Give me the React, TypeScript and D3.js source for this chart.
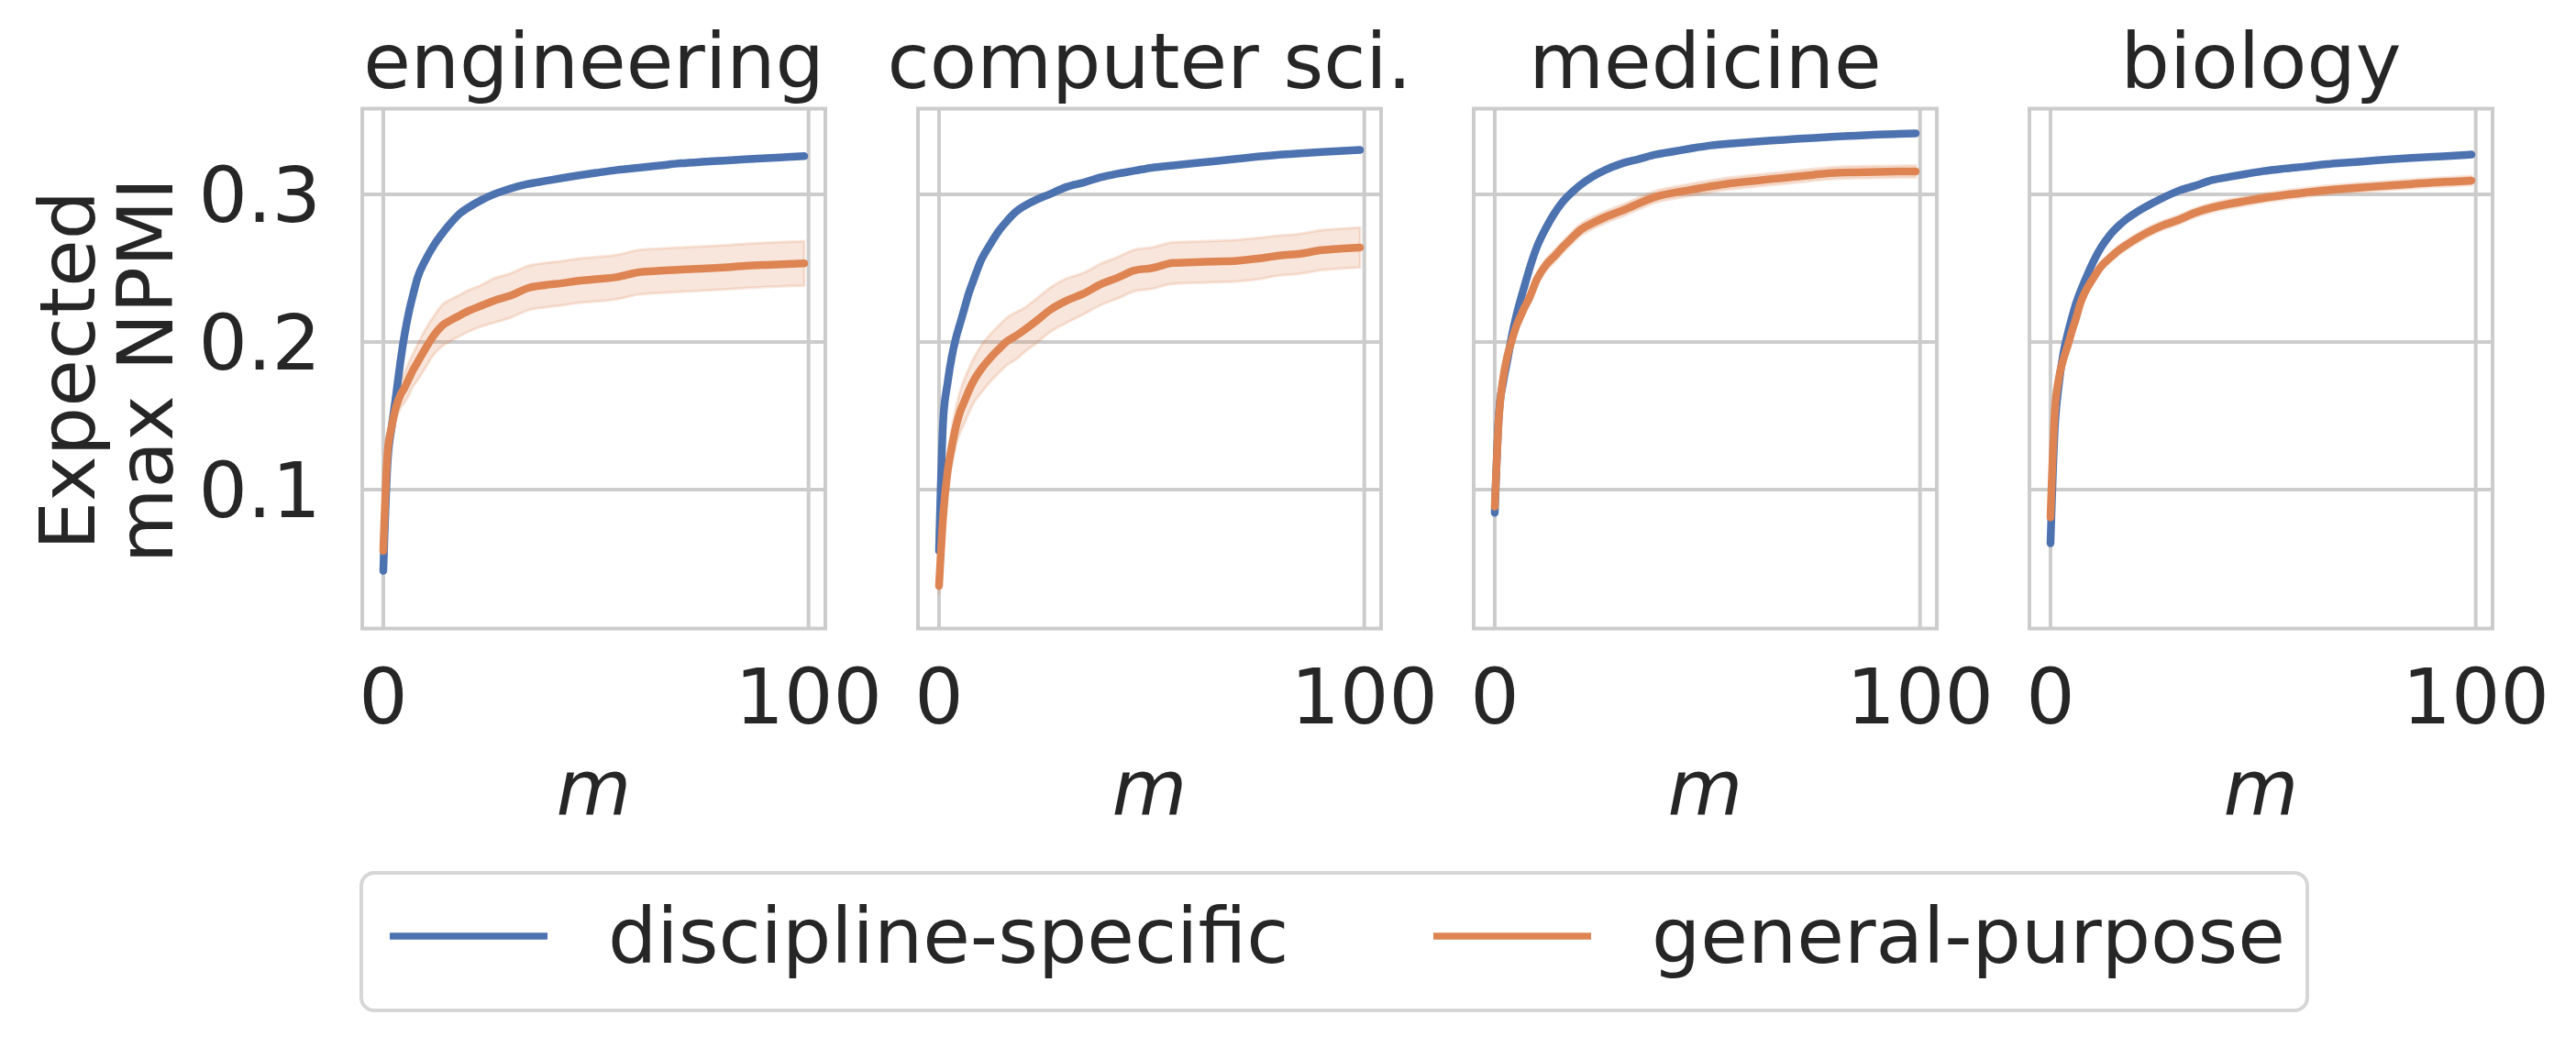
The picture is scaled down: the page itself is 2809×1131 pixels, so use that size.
import { useEffect, useRef } from "react";
import * as d3 from "d3";

// sample sizes m at which the curves were read
const mValues = [
  0, 1, 2, 3, 4, 5, 6, 7, 8, 10, 12, 14, 16, 18, 20, 23, 26, 30, 34, 38, 42, 46,
  50, 55, 60, 65, 70, 75, 80, 85, 90, 95, 99,
];

const disciplines = ["engineering", "computer sci.", "medicine", "biology"];

// discipline-specific (blue)
const engSpecific = [
  0.045, 0.118, 0.143, 0.164, 0.186, 0.205, 0.22, 0.232, 0.243, 0.256, 0.266,
  0.274, 0.281, 0.287, 0.291, 0.296, 0.3, 0.304, 0.307, 0.309, 0.311, 0.3128,
  0.3145, 0.3165, 0.318, 0.3195, 0.321, 0.322, 0.3228, 0.3237, 0.3245, 0.3252,
  0.3258,
];
const csSpecific = [
  0.0585, 0.148, 0.172, 0.19, 0.203, 0.213, 0.223, 0.233, 0.241, 0.256, 0.266,
  0.275, 0.282, 0.288, 0.292, 0.2965, 0.3, 0.305, 0.308, 0.3115, 0.314, 0.316,
  0.318, 0.3195, 0.321, 0.3225, 0.324, 0.3255, 0.3268, 0.3278, 0.3287, 0.3295,
  0.33,
];
const medSpecific = [
  0.0843, 0.152, 0.173, 0.188, 0.204, 0.217, 0.228, 0.238, 0.248, 0.265, 0.277,
  0.287, 0.295, 0.301, 0.306, 0.312, 0.3165, 0.321, 0.324, 0.327, 0.329, 0.331,
  0.3328, 0.3342, 0.3354, 0.3364, 0.3373, 0.3382, 0.339, 0.3397, 0.3404,
  0.3409, 0.3413,
];
const bioSpecific = [
  0.0637, 0.141, 0.172, 0.192, 0.205, 0.216, 0.226, 0.234, 0.241, 0.254,
  0.2645, 0.2725, 0.2786, 0.2835, 0.2875, 0.2925, 0.297, 0.3022, 0.3058,
  0.3096, 0.3118, 0.3138, 0.3157, 0.3174, 0.3188, 0.3204, 0.3215, 0.3226,
  0.3237, 0.3246, 0.3254, 0.3262, 0.3269,
];

// general-purpose (orange)
const engGeneral = [
  0.0585, 0.125, 0.143, 0.156, 0.164, 0.169, 0.175, 0.181, 0.186, 0.196, 0.205,
  0.2115, 0.215, 0.218, 0.221, 0.2245, 0.228, 0.2315, 0.2365, 0.2385, 0.2398,
  0.2415, 0.2425, 0.244, 0.2472, 0.2482, 0.249, 0.2497, 0.2505, 0.2515, 0.2522,
  0.2528, 0.2532,
];
const csGeneral = [
  0.0348, 0.083, 0.112, 0.129, 0.143, 0.153, 0.16, 0.167, 0.173, 0.182, 0.189,
  0.195, 0.2005, 0.204, 0.208, 0.2145, 0.2215, 0.228, 0.2328, 0.239, 0.2435,
  0.2485, 0.25, 0.2535, 0.254, 0.2545, 0.255, 0.2565, 0.2585, 0.2598, 0.2622,
  0.2633, 0.264,
];
const medGeneral = [
  0.0885, 0.15, 0.176, 0.191, 0.201, 0.2102, 0.217, 0.2235, 0.229, 0.243,
  0.252, 0.258, 0.2643, 0.27, 0.2755, 0.2805, 0.2846, 0.289, 0.294, 0.2985,
  0.301, 0.303, 0.305, 0.3073, 0.3088, 0.3103, 0.3117, 0.3132, 0.3145, 0.3149,
  0.3152, 0.3154, 0.3155,
];
const bioGeneral = [
  0.0812, 0.152, 0.176, 0.188, 0.197, 0.207, 0.216, 0.226, 0.233, 0.243,
  0.2515, 0.257, 0.262, 0.266, 0.2696, 0.2745, 0.2785, 0.2826, 0.2875, 0.291,
  0.2935, 0.2955, 0.2975, 0.2995, 0.3012, 0.3028, 0.304, 0.305, 0.306, 0.307,
  0.308, 0.3087, 0.3093,
];

// half width of the general-purpose confidence band
const engGeneralCi = [
  0.002, 0.005, 0.007, 0.008, 0.009, 0.01, 0.011, 0.011, 0.012, 0.013, 0.013,
  0.014, 0.014, 0.014, 0.014, 0.014, 0.015, 0.015, 0.015, 0.015, 0.015, 0.015,
  0.015, 0.015, 0.015, 0.015, 0.015, 0.015, 0.015, 0.015, 0.015, 0.015, 0.015,
];
const csGeneralCi = [
  0.006, 0.008, 0.01, 0.012, 0.013, 0.014, 0.015, 0.015, 0.015, 0.016, 0.016,
  0.016, 0.016, 0.016, 0.015, 0.015, 0.015, 0.015, 0.014, 0.014, 0.014, 0.014,
  0.014, 0.014, 0.014, 0.014, 0.014, 0.014, 0.0135, 0.0135, 0.0135, 0.0135,
  0.0135,
];
const medGeneralCi = [
  0.002, 0.004, 0.004, 0.004, 0.004, 0.004, 0.004, 0.004, 0.004, 0.004, 0.004,
  0.004, 0.004, 0.004, 0.004, 0.004, 0.004, 0.004, 0.004, 0.004, 0.004, 0.004,
  0.004, 0.004, 0.004, 0.004, 0.004, 0.004, 0.004, 0.004, 0.004, 0.004, 0.004,
];
const bioGeneralCi = [
  0.002, 0.003, 0.003, 0.003, 0.003, 0.003, 0.003, 0.003, 0.003, 0.003, 0.003,
  0.003, 0.003, 0.003, 0.003, 0.003, 0.003, 0.003, 0.003, 0.003, 0.003, 0.003,
  0.003, 0.003, 0.003, 0.003, 0.003, 0.003, 0.003, 0.003, 0.003, 0.003, 0.003,
];

const specificSeries = [engSpecific, csSpecific, medSpecific, bioSpecific];
const generalSeries = [engGeneral, csGeneral, medGeneral, bioGeneral];
const generalCis = [engGeneralCi, csGeneralCi, medGeneralCi, bioGeneralCi];

const yTicks = [0.1, 0.2, 0.3];
const xTicks = [0, 100];
const legendLabels = ["discipline-specific", "general-purpose"];

const BLUE = "#4c72b0";
const ORANGE = "#dd8452";
const GRID = "#cccccc";
const TEXT = "#262626";
const FONT = "'DejaVu Sans', sans-serif";

const App = () => {
  const svgRef = useRef<SVGSVGElement>(null);

  useEffect(() => {
    if (!svgRef.current) return;
    const svg = d3.select(svgRef.current);
    svg.selectAll("*").remove();

    const width = 2809;
    const height = 1131;
    svg.attr("width", width).attr("height", height);
    svg
      .append("rect")
      .attr("width", width)
      .attr("height", height)
      .attr("fill", "white");

    const top = 118.5;
    const bottom = 685.5;
    const panelW = 505;
    const step = 606;
    const firstLeft = 395;
    const fontSize = 84;

    const y = d3.scaleLinear().domain([0.006, 0.358]).range([bottom, top]);

    disciplines.forEach((name, i) => {
      const left = firstLeft + i * step;
      const x = d3
        .scaleLinear()
        .domain([-4.95, 103.95])
        .range([left, left + panelW]);
      const g = svg.append("g");

      // grid
      g.selectAll(".hgrid")
        .data(yTicks)
        .enter()
        .append("line")
        .attr("x1", left)
        .attr("x2", left + panelW)
        .attr("y1", (d) => y(d))
        .attr("y2", (d) => y(d))
        .attr("stroke", GRID)
        .attr("stroke-width", 4);
      g.selectAll(".vgrid")
        .data(xTicks)
        .enter()
        .append("line")
        .attr("x1", (d) => x(d))
        .attr("x2", (d) => x(d))
        .attr("y1", top)
        .attr("y2", bottom)
        .attr("stroke", GRID)
        .attr("stroke-width", 4);

      const spec = specificSeries[i];
      const gen = generalSeries[i];
      const ci = generalCis[i];

      // confidence band
      const band = d3
        .area<number>()
        .x((_, j) => x(mValues[j]))
        .y0((d, j) => y(d - ci[j]))
        .y1((d, j) => y(d + ci[j]))
        .curve(d3.curveMonotoneX);
      g.append("path")
        .attr("d", band(gen))
        .attr("fill", ORANGE)
        .attr("fill-opacity", 0.2)
        .attr("stroke", ORANGE)
        .attr("stroke-opacity", 0.2)
        .attr("stroke-width", 3);

      const line = d3
        .line<number>()
        .x((_, j) => x(mValues[j]))
        .y((d) => y(d))
        .curve(d3.curveMonotoneX);

      g.append("path")
        .attr("d", line(spec))
        .attr("fill", "none")
        .attr("stroke", BLUE)
        .attr("stroke-width", 8.5)
        .attr("stroke-linecap", "round")
        .attr("stroke-linejoin", "round");
      g.append("path")
        .attr("d", line(gen))
        .attr("fill", "none")
        .attr("stroke", ORANGE)
        .attr("stroke-width", 8.5)
        .attr("stroke-linecap", "round")
        .attr("stroke-linejoin", "round");

      // frame
      g.append("rect")
        .attr("x", left)
        .attr("y", top)
        .attr("width", panelW)
        .attr("height", bottom - top)
        .attr("fill", "none")
        .attr("stroke", GRID)
        .attr("stroke-width", 4);

      // title
      g.append("text")
        .attr("x", left + panelW / 2)
        .attr("y", 95.5)
        .attr("text-anchor", "middle")
        .attr("font-family", FONT)
        .attr("font-size", fontSize)
        .attr("fill", TEXT)
        .text(name);

      // x tick labels
      g.selectAll(".xtick")
        .data(xTicks)
        .enter()
        .append("text")
        .attr("x", (d) => x(d))
        .attr("y", 789)
        .attr("text-anchor", "middle")
        .attr("font-family", FONT)
        .attr("font-size", fontSize)
        .attr("fill", TEXT)
        .text((d) => String(d));

      // x label
      g.append("text")
        .attr("x", left + panelW / 2)
        .attr("y", 888)
        .attr("text-anchor", "middle")
        .attr("font-family", FONT)
        .attr("font-style", "italic")
        .attr("font-size", fontSize)
        .attr("fill", TEXT)
        .text("m");

      if (i === 0) {
        g.selectAll(".ytick")
          .data(yTicks)
          .enter()
          .append("text")
          .attr("x", 350)
          .attr("y", (d) => y(d))
          .attr("dy", "0.36em")
          .attr("text-anchor", "end")
          .attr("font-family", FONT)
          .attr("font-size", fontSize)
          .attr("fill", TEXT)
          .text((d) => d.toFixed(1));
      }
    });

    // y axis label, two lines
    const midY = (top + bottom) / 2 + 2;
    [
      { text: "Expected", x: 103 },
      { text: "max NPMI", x: 188 },
    ].forEach((l) => {
      svg
        .append("text")
        .attr("transform", `translate(${l.x},${midY}) rotate(-90)`)
        .attr("text-anchor", "middle")
        .attr("font-family", FONT)
        .attr("font-size", fontSize)
        .attr("fill", TEXT)
        .text(l.text);
    });

    // legend
    const legend = svg.append("g");
    legend
      .append("rect")
      .attr("x", 394)
      .attr("y", 952)
      .attr("width", 2122)
      .attr("height", 150)
      .attr("rx", 14)
      .attr("fill", "white")
      .attr("stroke", "#d6d6d6")
      .attr("stroke-width", 4);
    const items = [
      { label: legendLabels[0], color: BLUE, x: 425 },
      { label: legendLabels[1], color: ORANGE, x: 1563 },
    ];
    items.forEach((it) => {
      legend
        .append("line")
        .attr("x1", it.x)
        .attr("x2", it.x + 172)
        .attr("y1", 1021)
        .attr("y2", 1021)
        .attr("stroke", it.color)
        .attr("stroke-width", 7.5);
      legend
        .append("text")
        .attr("x", it.x + 238)
        .attr("y", 1050)
        .attr("font-family", FONT)
        .attr("font-size", fontSize)
        .attr("fill", TEXT)
        .text(it.label);
    });
  }, []);

  return (
    <div style={{ position: "absolute", left: 0, top: 0 }}>
      <svg ref={svgRef} style={{ display: "block" }}></svg>
    </div>
  );
};

export default App;
